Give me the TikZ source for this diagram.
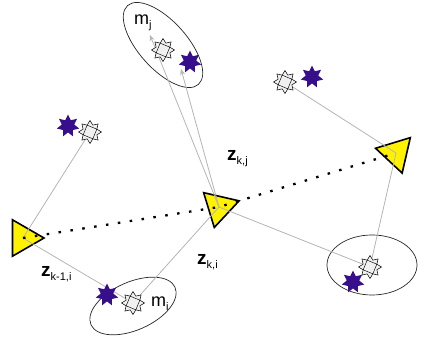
\documentclass[tikz,border=0pt]{standalone}
\usepackage{fontspec}
\setmainfont{Liberation Sans}
\usetikzlibrary{shapes.geometric,arrows.meta,backgrounds}
\definecolor{lm_purple}{RGB}{55,15,140}
\definecolor{ray_gray}{RGB}{180,180,180}
\newcommand{\zlab}[1]{{\fontsize{19}{19}\selectfont\bfseries z}\raisebox{-4pt}{\fontsize{11}{11}\selectfont #1}}
\newcommand{\mlab}[1]{{\fontsize{18}{18}\selectfont m}\raisebox{-4pt}{\fontsize{11}{11}\selectfont #1}}

\begin{document}
\begin{tikzpicture}[x=1pt, y=-1pt,
    pose/.style={regular polygon, regular polygon sides=3, draw, line width=1.6pt,
      fill=yellow, minimum size=42pt, inner sep=0pt},
    darkmark/.style={star, star points=7, star point ratio=1.8, minimum size=23pt,
      inner sep=0pt, fill=lm_purple},
    lightmark/.style={star, star points=8, star point ratio=1.55, minimum size=23pt,
      inner sep=0pt, draw, line width=0.5pt, fill=black!6,
      path picture={
        \draw[line width=0.45pt] (path picture bounding box.center)
          +(22.5:7.4pt) -- +(112.5:7.4pt) -- +(202.5:7.4pt) -- +(292.5:7.4pt) -- cycle
          +(67.5:7.4pt) -- +(157.5:7.4pt) -- +(247.5:7.4pt) -- +(337.5:7.4pt) -- cycle;}},
    ray/.style={ray_gray, line width=0.8pt},
    guess/.style={ray, -{Stealth[length=6pt,width=5pt]}},
    track/.style={line width=2.3pt, dash pattern=on 2.5pt off 9.5pt},
    lmring/.style={black!85, line width=0.7pt}]
  \useasboundingbox (0,0) rectangle (424,342);
  \node[darkmark] (ulDark) at (68,126) {};
  \node[lightmark] (ulLight) at (90,132) {};
  \node[lightmark] (jLight) at (163,50) {};
  \node[darkmark] (jDark) at (190,62) {};
  \node[lightmark] (urLight) at (285,82) {};
  \node[darkmark] (urDark) at (312,77) {};
  \node[darkmark] (iDark) at (107,295) {};
  \node[lightmark] (iLight) at (133,303) {};
  \node[lightmark] (rLight) at (370,267) {};
  \node[darkmark] (rDark) at (353,282) {};
  \coordinate (mjHat) at (150,35);
  \coordinate (jDarkHat) at (181,69);
  \node[anchor=base west, inner sep=0pt] (mj) at (134,25) {\mlab{j}};
  \node[anchor=base west, inner sep=0pt] (mi) at (151,307) {\mlab{i}};
  \node[anchor=base west, inner sep=0pt] (zkj) at (227,161) {\zlab{k,j}};
  \node[anchor=base west, inner sep=0pt] (zki) at (197,265) {\zlab{k,i}};
  \node[anchor=base west, inner sep=0pt] (zkmi) at (41,277) {\zlab{k-1,i}};
  \begin{scope}[on background layer]
    \draw[lmring, rotate around={-48:(163,45)}] (163,45) ellipse [x radius=53, y radius=24];
    \draw[lmring, rotate around={24:(133,306)}] (133,306) ellipse [x radius=46, y radius=24];
    \draw[lmring] (372,265) ellipse [x radius=45, y radius=30];
    \node[pose, shape border rotate=-90] (pose1) at (23,238) {};
    \node[pose, shape border rotate=-73] (pose2) at (219,207) {};
    \node[pose, shape border rotate=-43] (pose3) at (396,153) {};
    \draw[ray] (pose1.center) -- (ulLight);
    \draw[ray] (pose1.center) -- (iLight);
    \draw[ray] (pose2.center) -- (iLight);
    \draw[guess] (pose2.center) -- (mjHat);
    \draw[guess] (pose2.center) -- (jDarkHat);
    \draw[ray] (pose2.center) -- (rLight);
    \draw[ray] (pose3.center) -- (rLight);
    \draw[ray] (pose3.center) -- (urLight);
    \draw[track] (pose1.center) -- (pose2.center) -- (pose3.center);
  \end{scope}
\end{tikzpicture}
\end{document}
